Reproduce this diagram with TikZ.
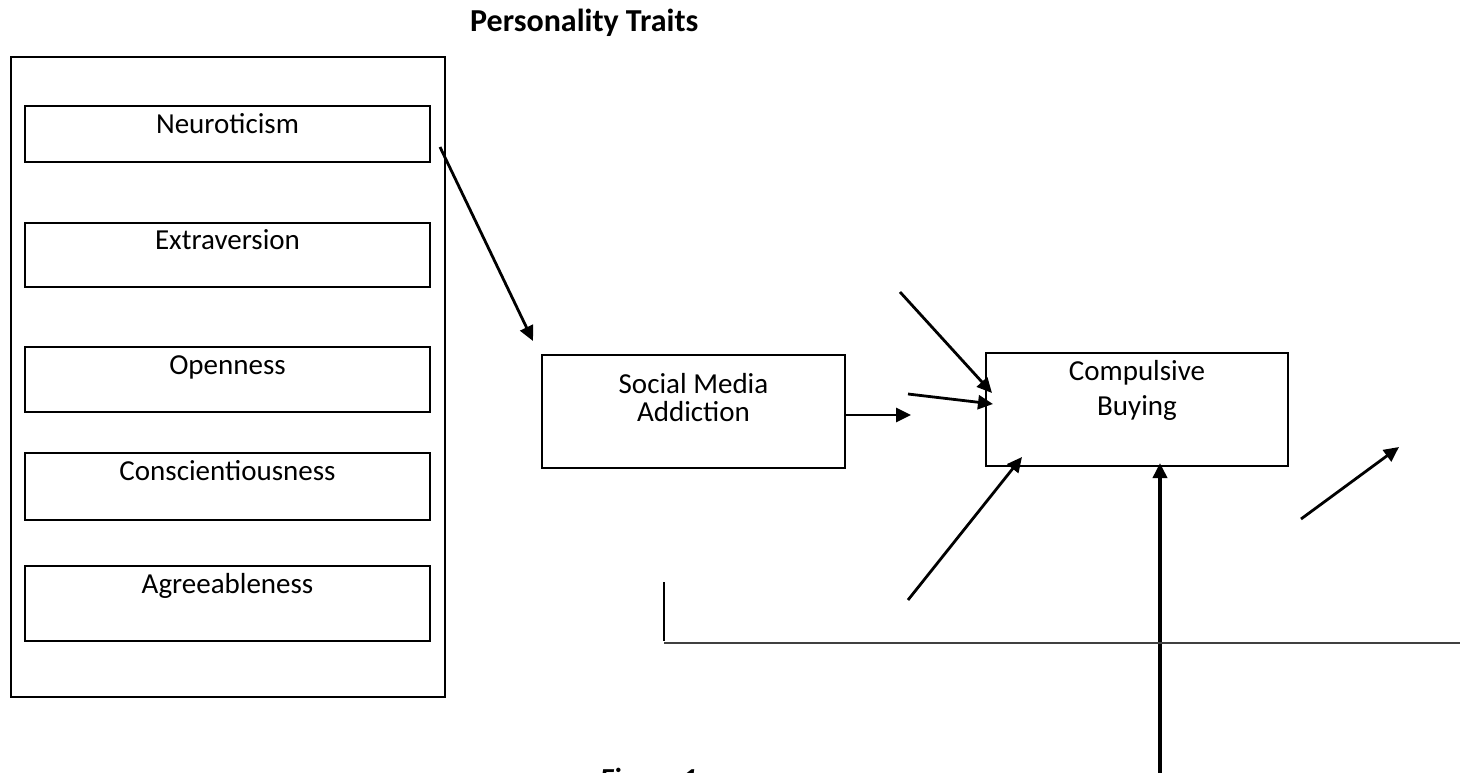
\documentclass[tikz,border=0pt]{standalone}
\usepackage{fontspec}
\setmainfont{Carlito}
\usetikzlibrary{arrows.meta}
\begin{document}
\begin{tikzpicture}[x=1pt,y=-1pt,
  box/.style={draw, line width=2.8pt, inner sep=0pt, rectangle},
  trait/.style={box, minimum width=405pt},
  txt/.style={font=\fontsize{29}{35}\selectfont, inner sep=0pt, anchor=base},
  arr/.style={line width=2.8pt, -{Triangle[length=15pt,width=14pt]}},
  plain/.style={line width=2pt}
]
\useasboundingbox (0,0) rectangle (1460,773);
% title
\node[txt, font=\fontsize{32}{38}\selectfont\bfseries, anchor=base west] (title) at (470,32) {Personality Traits};
% outer box
\node[box, minimum width=434pt, minimum height=640pt] (outer) at (228,377) {};
% trait boxes
\node[trait, minimum height=56pt, label={[txt, yshift=-29pt]north:Neuroticism}] (neu) at (227.5,134) {};
\node[trait, minimum height=64pt, label={[txt, yshift=-28pt]north:Extraversion}] (ext) at (227.5,255) {};
\node[trait, minimum height=65pt, label={[txt, yshift=-29pt]north:Openness}] (ope) at (227.5,379.5) {};
\node[trait, minimum height=67pt, label={[txt, yshift=-29pt]north:Conscientiousness}] (con) at (227.5,486.5) {};
\node[trait, minimum height=75pt, label={[txt, yshift=-29pt]north:Agreeableness}] (agr) at (227.5,603.5) {};
% social media addiction
\node[box, minimum width=303pt, minimum height=113pt,
  label={[txt, yshift=-40pt]north:Social Media},
  label={[txt, yshift=-68pt]north:Addiction}] (sma) at (693.5,411.5) {};
% compulsive buying
\node[box, minimum width=302pt, minimum height=113pt,
  label={[txt, yshift=-29pt]north:Compulsive},
  label={[txt, yshift=-64pt]north:Buying}] (cb) at (1137,409.5) {};
% coordinates
\coordinate (a1s) at (440,147);
\coordinate (a1e) at (533,341);
\coordinate (a2s) at (845,415);
\coordinate (a2e) at (911,415);
\coordinate (a3s) at (900,292);
\coordinate (a3e) at (992,393);
\coordinate (a4s) at (908,394);
\coordinate (a4e) at (993,404);
\coordinate (a5s) at (908,600);
\coordinate (a5e) at (1022,457);
\coordinate (a6s) at (1160,780);
\coordinate (a6e) at (1160,463);
\coordinate (a7s) at (1301,519);
\coordinate (a7e) at (1399,447);
\coordinate (l1) at (664,582);
\coordinate (l2) at (664,641);
\coordinate (l3) at (664,643);
\coordinate (l4) at (1462,643);
% connectors
\draw[arr] (a1s) -- (a1e);
\draw[arr] (a2s) -- (a2e);
\draw[arr] (a3s) -- (a3e);
\draw[arr] (a4s) -- (a4e);
\draw[arr] (a5s) -- (a5e);
\draw[arr, line width=3.6pt] (a6s) -- (a6e);
\draw[arr] (a7s) -- (a7e);
\draw[plain] (l1) -- (l2);
\draw[plain, black!75] (l3) -- (l4);
% caption (cut off at bottom, as in the reference)
\node[txt, font=\fontsize{29}{35}\selectfont\bfseries\itshape, anchor=base west] (fig) at (600,788) {Figure 1};
\end{tikzpicture}
\end{document}
